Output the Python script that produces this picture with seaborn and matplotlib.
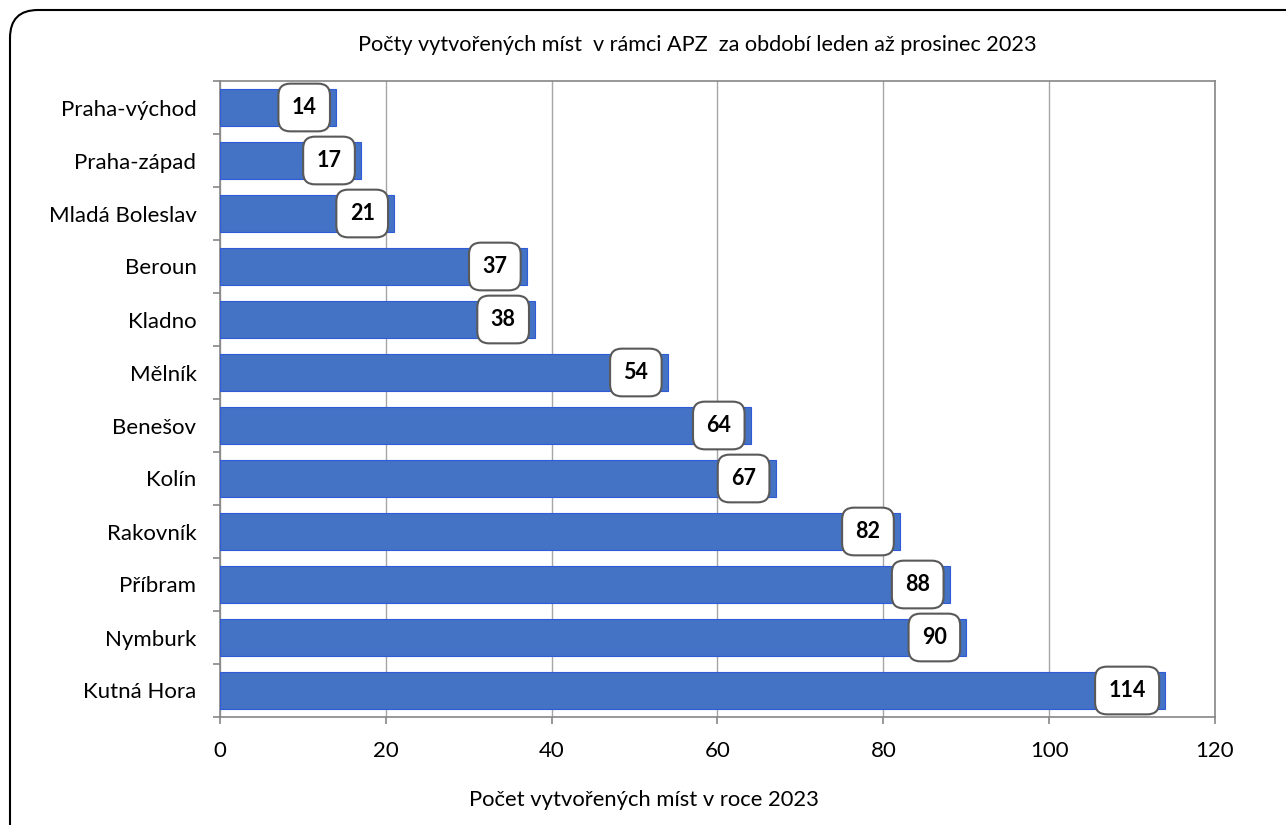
import matplotlib
matplotlib.use("Agg")
import matplotlib.pyplot as plt
import seaborn as sns
import pandas as pd
from matplotlib.patches import FancyBboxPatch
from matplotlib.ticker import MultipleLocator, FixedLocator

districts = ["Praha-východ", "Praha-západ", "Mladá Boleslav", "Beroun", "Kladno",
             "Mělník", "Benešov", "Kolín", "Rakovník", "Příbram", "Nymburk", "Kutná Hora"]
values = [14, 17, 21, 37, 38, 54, 64, 67, 82, 88, 90, 114]
title = "Počty vytvořených míst  v rámci APZ  za období leden až prosinec 2023"
xlabel = "Počet vytvořených míst v roce 2023"

df = pd.DataFrame({"okres": districts, "pocet": values})

sns.set_theme(style="white")
plt.rcParams["font.family"] = ["Lato", "DejaVu Sans"]

W, H = 1286, 825
fig = plt.figure(figsize=(W / 100, H / 100), dpi=100)
ax = fig.add_axes([220 / W, 1 - 717 / H, (1215 - 220) / W, (717 - 81) / H])

sns.barplot(data=df, y="okres", x="pocet", orient="h", color="#4472C4",
            saturation=1, width=0.68, edgecolor="#2F5BD8", linewidth=0.8, ax=ax, zorder=3)

ax.set_xlim(0, 120)
ax.set_ylim(len(districts) - 0.5, -0.5)
ax.xaxis.set_major_locator(MultipleLocator(20))
ax.grid(axis="x", color="#A6A6A6", linewidth=1.0, zorder=0)
ax.grid(axis="y", visible=False)

for s in ["left", "bottom", "top", "right"]:
    ax.spines[s].set_visible(True)
    ax.spines[s].set_color("#868686")
    ax.spines[s].set_linewidth(1.2)

ax.yaxis.set_minor_locator(FixedLocator([i - 0.5 for i in range(len(districts) + 1)]))
ax.tick_params(axis="y", which="major", length=0, pad=17, labelsize=16, labelcolor="black")
ax.tick_params(axis="y", which="minor", left=True, length=5, width=1.2, color="#868686")
ax.tick_params(axis="x", which="major", bottom=True, length=5, width=1.2, color="#868686",
               pad=12, labelsize=16, labelcolor="black")

ax.set_ylabel("")
ax.set_xlabel("")
fig.text(644 / W, 1 - 800 / H, xlabel, ha="center", va="center", fontsize=15.8, color="black")

for i, v in enumerate(values):
    ax.annotate(str(v), xy=(v, i), xytext=(-14, 0), textcoords="offset points",
                ha="right", va="center", fontsize=15.5, fontweight="bold", color="black",
                zorder=5,
                bbox=dict(boxstyle="round,pad=0.62,rounding_size=0.55", fc="white",
                          ec="#595959", lw=1.5))

fig.text(697 / W, 1 - 45 / H, title, ha="center", va="center", fontsize=15.6, color="black")

border = FancyBboxPatch((10, -30), W + 30, H + 20, boxstyle="round,pad=0,rounding_size=28",
                        fill=False, ec="black", lw=1.5, clip_on=False,
                        transform=matplotlib.transforms.IdentityTransform())
fig.patches.append(border)

fig.savefig("out.png", dpi=100)
